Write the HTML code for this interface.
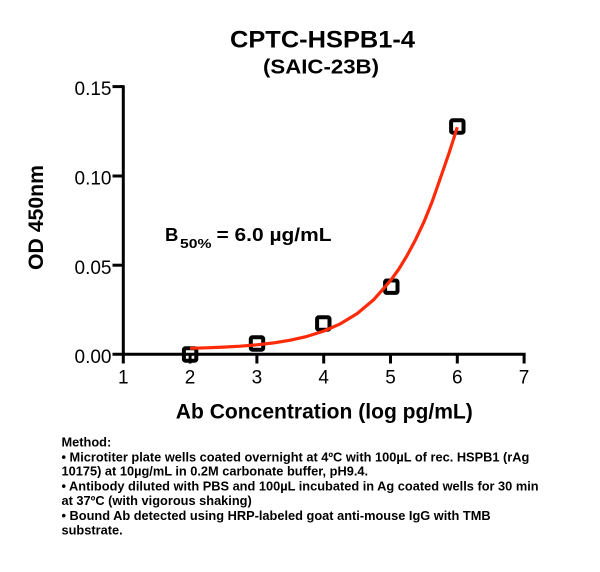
<!DOCTYPE html>
<html>
<head>
<meta charset="utf-8">
<style>
  html, body { margin:0; padding:0; background:#ffffff; }
  body { width:600px; height:572px; overflow:hidden; }
  svg { display:block; }
  text { font-family: "Liberation Sans", Arial, sans-serif; fill:#000; }
</style>
</head>
<body>
<svg width="600" height="572" viewBox="0 0 600 572" xmlns="http://www.w3.org/2000/svg">
  <rect x="0" y="0" width="600" height="572" fill="#ffffff"/>

  <!-- Titles -->
  <text x="322.5" y="47.7" font-size="24.5" font-weight="bold" text-anchor="middle" textLength="185" lengthAdjust="spacingAndGlyphs">CPTC-HSPB1-4</text>
  <text x="321" y="73.3" font-size="20.5" font-weight="bold" text-anchor="middle" textLength="116" lengthAdjust="spacingAndGlyphs">(SAIC-23B)</text>

  <!-- Axes -->
  <g stroke="#000" stroke-width="3" fill="none" stroke-linecap="butt">
    <line x1="123.3" y1="85.2" x2="123.3" y2="363.5"/>
    <line x1="112.5" y1="354.2" x2="525.6" y2="354.2"/>
    <!-- y ticks -->
    <line x1="112.5" y1="86.6" x2="123.3" y2="86.6"/>
    <line x1="112.5" y1="176" x2="123.3" y2="176"/>
    <line x1="112.5" y1="265.2" x2="123.3" y2="265.2"/>
    <!-- x ticks -->
    <line x1="190.1" y1="354.2" x2="190.1" y2="363.5"/>
    <line x1="256.9" y1="354.2" x2="256.9" y2="363.5"/>
    <line x1="323.7" y1="354.2" x2="323.7" y2="363.5"/>
    <line x1="390.5" y1="354.2" x2="390.5" y2="363.5"/>
    <line x1="457.3" y1="354.2" x2="457.3" y2="363.5"/>
    <line x1="524.1" y1="354.2" x2="524.1" y2="363.5"/>
  </g>

  <!-- Y tick labels -->
  <g font-size="19" text-anchor="end">
    <text x="111.5" y="95.2">0.15</text>
    <text x="111.5" y="184.5">0.10</text>
    <text x="111.5" y="273.8">0.05</text>
    <text x="111.5" y="362.8">0.00</text>
  </g>

  <!-- X tick labels -->
  <g font-size="19" text-anchor="middle">
    <text x="123.3" y="383.3">1</text>
    <text x="190.1" y="383.3">2</text>
    <text x="256.9" y="383.3">3</text>
    <text x="323.7" y="383.3">4</text>
    <text x="390.5" y="383.3">5</text>
    <text x="457.3" y="383.3">6</text>
    <text x="524.1" y="383.3">7</text>
  </g>

  <!-- Axis labels -->
  <text x="324.3" y="418.3" font-size="21" font-weight="bold" text-anchor="middle" textLength="297" lengthAdjust="spacingAndGlyphs">Ab Concentration (log pg/mL)</text>
  <text transform="translate(43,217.5) rotate(-90)" x="0" y="0" font-size="21" font-weight="bold" text-anchor="middle" textLength="105" lengthAdjust="spacingAndGlyphs">OD 450nm</text>

  <!-- B50 annotation -->
  <text x="165" y="241" font-size="18.5" font-weight="bold">B</text>
  <text x="180" y="248" font-size="12.5" font-weight="bold" textLength="31.5" lengthAdjust="spacingAndGlyphs">50%</text>
  <text x="216.5" y="241" font-size="18.5" font-weight="bold" textLength="115" lengthAdjust="spacingAndGlyphs">= 6.0 µg/mL</text>

  <!-- Markers -->
  <g stroke="#000" stroke-width="4" fill="none">
    <rect x="183.9" y="348.3" width="12.4" height="12.4" rx="1.5"/>
    <rect x="250.8" y="337.3" width="12.4" height="12.4" rx="1.5"/>
    <rect x="317.1" y="317.3" width="12.4" height="12.4" rx="1.5"/>
    <rect x="385.1" y="280.5" width="12.4" height="12.4" rx="1.5"/>
    <rect x="451.1" y="120.3" width="12.4" height="12.4" rx="1.5"/>
  </g>

  <!-- Fitted curve -->
  <polyline fill="none" stroke="#ff2a08" stroke-width="3.2" stroke-linejoin="round" stroke-linecap="butt"
    points="190.1,348.3 206.8,347.8 223.5,347.1 240.2,346.2 256.9,344.8 273.6,342.9 290.3,340.2 307.0,336.4 323.7,331.1 340.4,323.8 357.1,313.6 373.8,299.6 390.5,280.6 398.9,269.0 407.2,255.3 415.6,239.6 423.9,222.1 432.2,201.5 440.6,177.5 448.9,153.5 453.1,140.5 457.3,127.2"/>

  <!-- Method text -->
  <g font-size="12.8" font-weight="bold" xml:space="preserve">
    <text x="61.5" y="446.7">Method:</text>
    <text x="61.5" y="461.3">• Microtiter plate wells coated overnight at 4ºC  with 100µL of rec. HSPB1 (rAg</text>
    <text x="61.5" y="475.7">10175) at 10µg/mL in 0.2M carbonate buffer, pH9.4.</text>
    <text x="61.5" y="490.7">• Antibody diluted with PBS and 100µL incubated in Ag coated wells for 30 min</text>
    <text x="61.5" y="505">at 37ºC (with vigorous shaking)</text>
    <text x="61.5" y="520">• Bound Ab detected using HRP-labeled goat anti-mouse IgG with TMB</text>
    <text x="61.5" y="534.3">substrate.</text>
  </g>
</svg>
</body>
</html>
